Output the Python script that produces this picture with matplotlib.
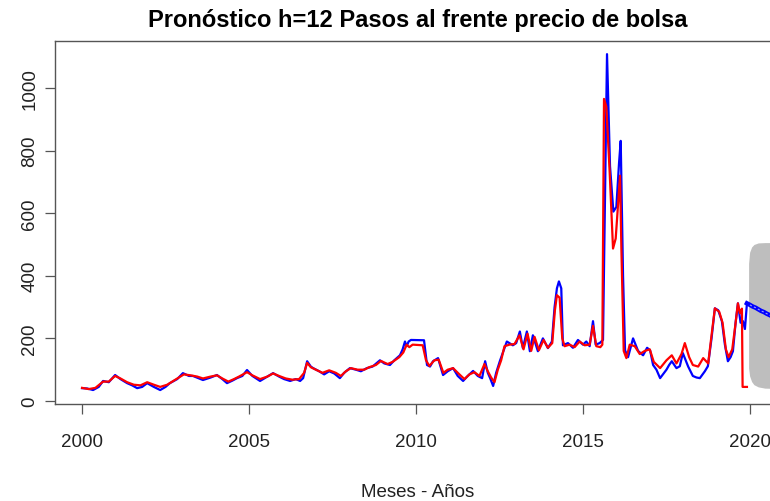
"""
Pronóstico a 12 pasos del precio de bolsa: serie observada, ajuste del modelo
y pronóstico con su banda de predicción.
"""
import numpy as np
import matplotlib.pyplot as plt

plt.rcParams['font.family'] = ['Liberation Sans', 'DejaVu Sans']

# serie observada (azul), años en forma decimal
anio_obs = [2000.00, 2000.15, 2000.33, 2000.50, 2000.63, 2000.80, 2000.99, 2001.15, 2001.35, 2001.50,
            2001.65, 2001.80, 2001.95, 2002.15, 2002.34, 2002.50, 2002.63, 2002.85, 2003.02, 2003.20,
            2003.32, 2003.50, 2003.62, 2003.85, 2004.04, 2004.20, 2004.34, 2004.50, 2004.64, 2004.80,
            2004.94, 2005.10, 2005.33, 2005.50, 2005.72, 2005.90, 2006.05, 2006.23, 2006.40, 2006.53,
            2006.62, 2006.74, 2006.85, 2006.92, 2007.10, 2007.25, 2007.40, 2007.55, 2007.72, 2007.85,
            2008.02, 2008.20, 2008.35, 2008.53, 2008.70, 2008.92, 2009.05, 2009.22, 2009.35, 2009.52,
            2009.60, 2009.67, 2009.72, 2009.78, 2009.85, 2010.24, 2010.33, 2010.42, 2010.51, 2010.66,
            2010.81, 2010.95, 2011.11, 2011.25, 2011.41, 2011.55, 2011.71, 2011.85, 2011.98, 2012.07,
            2012.15, 2012.22, 2012.31, 2012.40, 2012.51, 2012.62, 2012.72, 2012.90, 2013.00, 2013.11,
            2013.20, 2013.32, 2013.41, 2013.50, 2013.65, 2013.80, 2013.95, 2014.07, 2014.15, 2014.22,
            2014.28, 2014.35, 2014.40, 2014.55, 2014.70, 2014.85, 2015.00, 2015.10, 2015.20, 2015.30,
            2015.38, 2015.50, 2015.60, 2015.72, 2015.81, 2015.91, 2016.00, 2016.08, 2016.13, 2016.20,
            2016.26, 2016.35, 2016.50, 2016.65, 2016.80, 2016.92, 2017.01, 2017.10, 2017.20, 2017.31,
            2017.50, 2017.58, 2017.66, 2017.80, 2017.90, 2017.99, 2018.15, 2018.29, 2018.40, 2018.50,
            2018.65, 2018.74, 2018.85, 2018.95, 2019.05, 2019.16, 2019.25, 2019.34, 2019.42, 2019.49,
            2019.57, 2019.64, 2019.72, 2019.79, 2019.85, 2019.91]
precio_obs = [41, 40, 35, 45, 64, 60, 83, 70, 57, 50,
              41, 45, 57, 45, 35, 45, 57, 70, 89, 80,
              80, 72, 67, 75, 83, 70, 57, 65, 73, 80,
              99, 80, 64, 75, 89, 78, 70, 64, 70, 64,
              73, 127, 110, 105, 95, 85, 95, 88, 73, 90,
              105, 100, 95, 105, 110, 130, 120, 115, 130, 146,
              165, 190, 175, 190, 195, 194, 115, 110, 127, 137,
              83, 95, 105, 80, 64, 80, 96, 80, 73, 127,
              90, 73, 48, 90, 127, 160, 190, 178, 185, 222,
              169, 222, 159, 210, 159, 200, 169, 190, 300, 360,
              382, 360, 178, 185, 170, 195, 180, 190, 175, 255,
              180, 185, 195, 1108, 750, 605, 620, 760, 831, 400,
              162, 140, 200, 160, 146, 170, 162, 115, 100, 73,
              100, 115, 127, 105, 111, 153, 110, 80, 75, 73,
              95, 111, 200, 296, 290, 255, 180, 127, 140, 159,
              250, 312, 250, 255, 230, 312]

# valores ajustados por el modelo (rojo)
anio_aj = [2000.00, 2000.20, 2000.40, 2000.63, 2000.80, 2000.99, 2001.15, 2001.35, 2001.55, 2001.75,
           2001.95, 2002.15, 2002.34, 2002.55, 2002.70, 2002.90, 2003.05, 2003.25, 2003.45, 2003.62,
           2003.85, 2004.04, 2004.20, 2004.38, 2004.55, 2004.70, 2004.94, 2005.10, 2005.33, 2005.55,
           2005.72, 2005.90, 2006.10, 2006.30, 2006.50, 2006.65, 2006.74, 2006.85, 2007.00, 2007.20,
           2007.40, 2007.60, 2007.75, 2007.90, 2008.05, 2008.25, 2008.45, 2008.60, 2008.80, 2008.95,
           2009.15, 2009.30, 2009.50, 2009.62, 2009.72, 2009.80, 2009.90, 2010.20, 2010.30, 2010.40,
           2010.55, 2010.68, 2010.82, 2010.95, 2011.11, 2011.30, 2011.45, 2011.60, 2011.75, 2011.90,
           2012.05, 2012.15, 2012.25, 2012.35, 2012.45, 2012.55, 2012.65, 2012.80, 2012.95, 2013.10,
           2013.22, 2013.34, 2013.45, 2013.55, 2013.68, 2013.82, 2013.95, 2014.08, 2014.16, 2014.22,
           2014.30, 2014.38, 2014.45, 2014.60, 2014.75, 2014.90, 2015.05, 2015.20, 2015.30, 2015.40,
           2015.52, 2015.58, 2015.63, 2015.70, 2015.80, 2015.90, 2015.98, 2016.11, 2016.15, 2016.22,
           2016.30, 2016.40, 2016.55, 2016.70, 2016.85, 2017.00, 2017.12, 2017.31, 2017.50, 2017.66,
           2017.80, 2017.95, 2018.05, 2018.18, 2018.29, 2018.45, 2018.60, 2018.75, 2018.85, 2018.95,
           2019.08, 2019.18, 2019.28, 2019.36, 2019.47, 2019.56, 2019.64, 2019.70, 2019.76, 2019.78,
           2019.91]
precio_aj = [42, 38, 42, 62, 62, 80, 72, 60, 52, 50,
             60, 52, 45, 52, 62, 75, 85, 82, 78, 72,
             78, 82, 72, 62, 70, 78, 92, 82, 70, 78,
             88, 80, 72, 68, 70, 90, 122, 108, 100, 90,
             98, 90, 80, 95, 105, 100, 100, 108, 115, 128,
             118, 125, 140, 155, 180, 172, 180, 178, 130, 112,
             130, 132, 90, 100, 105, 85, 70, 85, 92, 80,
             118, 95, 75, 60, 100, 130, 175, 180, 182, 210,
             165, 215, 160, 205, 162, 195, 170, 185, 290, 338,
             330, 200, 175, 180, 172, 190, 178, 180, 240, 175,
             172, 180, 965, 940, 730, 487, 519, 720, 487, 160,
             137, 180, 175, 150, 160, 165, 125, 105, 130, 146,
             120, 150, 185, 140, 115, 110, 137, 120, 210, 296,
             285, 250, 165, 140, 165, 240, 312, 280, 295, 45,
             45]

# pronóstico h=12 y banda de predicción
anio_pron = [2020.00, 2020.08, 2020.17, 2020.25, 2020.33, 2020.42,
             2020.50, 2020.58, 2020.67, 2020.75, 2020.83, 2020.92]
precio_pron = [307, 302, 298, 293, 288, 284, 279, 275, 270, 266, 261, 256]

anio_banda = [2019.96, 2019.99, 2020.05, 2020.12, 2020.25, 2020.45, 2020.92]
banda_sup = [440, 475, 492, 500, 505, 506, 506]
banda_inf = [105, 80, 62, 52, 45, 41, 40]

fig = plt.figure(figsize=(7.7, 5.02), dpi=100)
ax = fig.add_axes([55/770, 97/502, 726/770, 363/502])

ax.fill_between(anio_banda, banda_inf, banda_sup, color='#bebebe', lw=0)
ax.plot(anio_obs, precio_obs, color='blue', lw=1.6)
ax.plot(anio_aj, precio_aj, color='red', lw=1.6)
ax.plot([anio_obs[-1]] + anio_pron, [precio_obs[-1]] + precio_pron, color='blue', lw=3.2)
ax.plot(anio_pron, precio_pron, color='white', lw=0.8, ls=(0, (2, 2)), alpha=0.6)

ax.set_xlim(1999.19, 2020.93)
ax.set_ylim(-9.6, 1150)
ax.set_xticks(np.arange(2000, 2021, 5))
ax.set_yticks(np.arange(0, 1001, 200))
ax.set_yticklabels([str(v) for v in range(0, 1001, 200)], rotation=90, va='center')

for s in ax.spines.values():
    s.set_color('#555555')
    s.set_linewidth(1)
ax.tick_params(direction='out', length=7, width=0.9, color='#555555',
               labelsize=13.5, labelcolor='#222222')
ax.tick_params(axis='x', pad=14)
ax.tick_params(axis='y', pad=5)

ax.set_title('Pronóstico h=12 Pasos al frente precio de bolsa',
             fontsize=17, fontweight='bold', pad=11)
ax.set_xlabel('Meses - Años', fontsize=13.5, color='#222222', labelpad=24)

fig.savefig('out.png', dpi=100)
